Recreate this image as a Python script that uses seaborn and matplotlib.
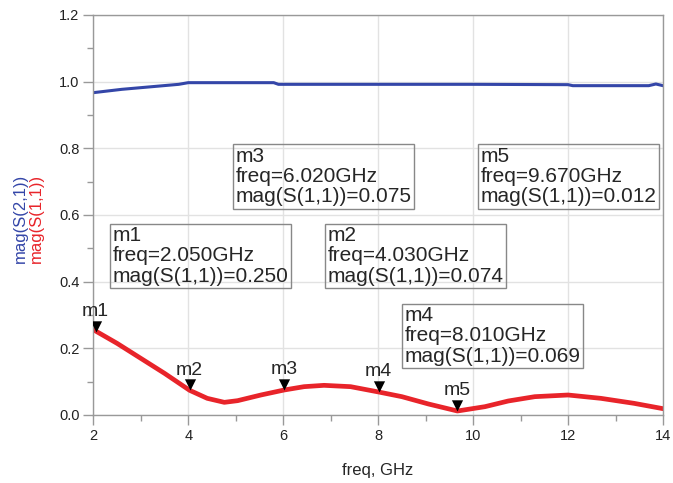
import numpy as np
import pandas as pd
import matplotlib
matplotlib.use("Agg")
import matplotlib.pyplot as plt
import seaborn as sns

# --- data ---
freq_s11 = [2.0, 2.5, 3.0, 3.5, 4.03, 4.4, 4.76, 5.04, 5.53, 6.02, 6.44, 6.86, 7.42,
            8.01, 8.5, 9.06, 9.67, 10.25, 10.74, 11.3, 12.0, 12.69, 13.39, 14.0]
mag_s11 = [0.256, 0.215, 0.170, 0.125, 0.074, 0.050, 0.038, 0.043, 0.060, 0.075,
           0.085, 0.089, 0.085, 0.069, 0.055, 0.033, 0.012, 0.025, 0.042, 0.055,
           0.060, 0.050, 0.035, 0.019]

freq_s21 = [2.0, 2.3, 2.6, 3.0, 3.4, 3.8, 4.0, 5.8, 5.9, 8.0, 10.0, 12.0, 12.1, 13.7,
            13.85, 14.0]
mag_s21 = [0.967, 0.972, 0.977, 0.982, 0.987, 0.992, 0.997, 0.997, 0.992, 0.992, 0.992,
           0.991, 0.988, 0.988, 0.993, 0.988]

marker_names = ["m1", "m2", "m3", "m4", "m5"]
marker_freq = [2.05, 4.03, 6.02, 8.01, 9.67]
marker_val = [0.250, 0.074, 0.075, 0.069, 0.012]
box_pos = [(2.33, 0.577), (6.86, 0.577), (4.92, 0.815), (8.49, 0.337), (10.09, 0.815)]

x_ticks = [2, 4, 6, 8, 10, 12, 14]
y_ticks = [0.0, 0.2, 0.4, 0.6, 0.8, 1.0, 1.2]

RED = "#E8242A"
BLUE = "#3446A8"

sns.set_style("white")
plt.rcParams["font.family"] = ["Liberation Sans", "DejaVu Sans"]

fig = plt.figure(figsize=(6.73, 4.83), dpi=100)
ax = fig.add_axes([93.3 / 673, 1 - 415 / 483, (663 - 93.3) / 673, (415 - 15) / 483])

df11 = pd.DataFrame({"freq": freq_s11, "mag": mag_s11})
df21 = pd.DataFrame({"freq": freq_s21, "mag": mag_s21})
sns.lineplot(data=df21, x="freq", y="mag", ax=ax, color=BLUE, linewidth=2.2)
sns.lineplot(data=df11, x="freq", y="mag", ax=ax, color=RED, linewidth=3.4)

ax.set_xlim(2, 14)
ax.set_ylim(0, 1.2)
ax.set_xticks(x_ticks)
ax.set_xticklabels([str(t) for t in x_ticks])
ax.set_yticks(y_ticks)
ax.set_yticklabels([f"{t:.1f}" for t in y_ticks])
ax.set_xticks(np.arange(3, 14, 2), minor=True)
ax.set_yticks(np.arange(0.1, 1.2, 0.2), minor=True)
ax.grid(True, which="major", color="#E2E2E2", linewidth=1.0)
ax.set_axisbelow(True)
for s in ax.spines.values():
    s.set_color("#999999")
    s.set_linewidth(1.0)
ax.tick_params(which="major", direction="out", length=7, width=1, color="#999999",
               labelsize=10.5, labelcolor="#222222", bottom=True, left=True, pad=3)
ax.tick_params(which="minor", direction="out", length=4, width=1, color="#999999",
               bottom=True, left=True)
ax.set_xlabel("")
ax.set_ylabel("")

fig.text(378 / 673, 1 - 470 / 483, "freq, GHz", ha="center", va="center", fontsize=12)
fig.text(20 / 673, 1 - 218 / 483, "mag(S(2,1))", rotation=90, ha="center", va="center",
         fontsize=12, color=BLUE)
fig.text(36 / 673, 1 - 218 / 483, "mag(S(1,1))", rotation=90, ha="center", va="center",
         fontsize=12, color=RED)

# markers
tri = matplotlib.markers.MarkerStyle([(-0.5, 1.0), (0.5, 1.0), (0.0, 0.0)])
ax.scatter(marker_freq, marker_val, marker=tri, s=260, color="black", zorder=5,
           linewidths=0)
for name, f, v in zip(marker_names, marker_freq, marker_val):
    ax.annotate(name, xy=(f, v), xytext=(0, 8.5), textcoords="offset points",
                ha="center", va="bottom", fontsize=14, zorder=6)

for name, f, v, (bx, by) in zip(marker_names, marker_freq, marker_val, box_pos):
    txt = f"{name}\nfreq={f:.3f}GHz\nmag(S(1,1))={v:.3f}"
    ax.annotate(txt, xy=(bx, by), xytext=(2.5, -2.5), textcoords="offset points",
                ha="left", va="top", fontsize=15, linespacing=1.08,
                bbox=dict(boxstyle="square,pad=0.12", facecolor="none",
                          edgecolor="#888888", linewidth=1.0), zorder=6)

fig.savefig("out.png", dpi=100)
